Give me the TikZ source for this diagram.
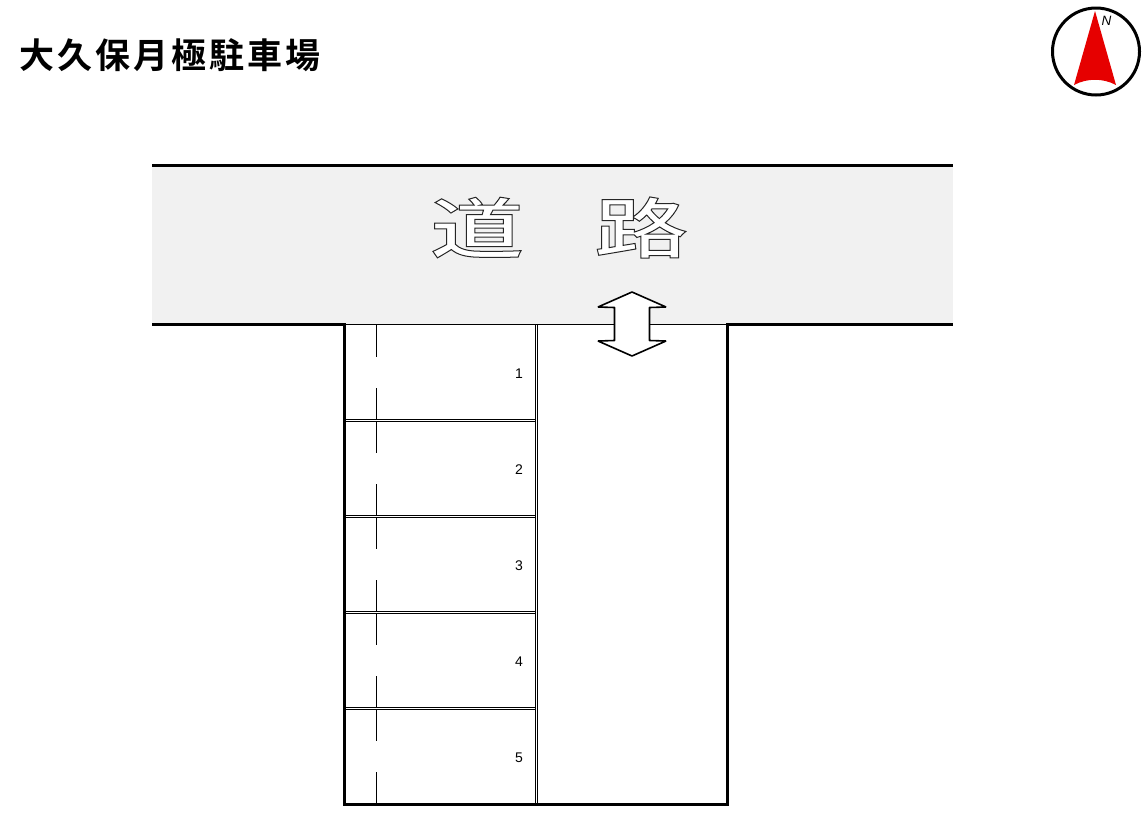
\documentclass[tikz,border=0pt]{standalone}
\usepackage{fontspec}
\newfontfamily\titlefont[LetterSpace=8.8]{Noto Sans CJK JP Bold}
\newfontfamily\roadfont[FakeStretch=1.42]{Noto Sans CJK JP Medium}
\setmainfont{Liberation Sans}
\definecolor{roadgray}{HTML}{F1F1F1}
\definecolor{northred}{HTML}{E60000}
\tikzset{
  x=1pt,y=-1pt,
  thickline/.style={line width=3pt,black},
  thinline/.style={line width=1.1pt,black},
  numlabel/.style={font=\fontsize{14}{14}\selectfont,inner sep=0pt,anchor=center},
}
\begin{document}
\begin{tikzpicture}
\useasboundingbox (0,0) rectangle (1148,825);
\fill[white] (0,0) rectangle (1148,825);
% road
\fill[roadgray] (152,165) rectangle (953,325);
\node[inner sep=0pt] (title) at (170,55) {\fontsize{35}{35}\selectfont\titlefont 大久保月極駐車場};
\node[inner sep=0pt] (road1) at (477,227.5) {\fontsize{66}{66}\selectfont\roadfont\special{pdf:code q 2 Tr 1 w 0.15 0.15 0.15 RG 1 1 1 rg}道\special{pdf:code Q}};
\node[inner sep=0pt] (road2) at (641,227.5) {\fontsize{66}{66}\selectfont\roadfont\special{pdf:code q 2 Tr 1 w 0.15 0.15 0.15 RG 1 1 1 rg}路\special{pdf:code Q}};
% lot separators
\draw[thinline] (345,324.5) -- (728,324.5);
\draw[thinline] (535.7,325) -- (535.7,804);
\draw[thinline] (537.6,325) -- (537.6,804);
\foreach \yy in {419.3,515.3,611.3,707.3}{
  \draw[thinline] (344,\yy) -- (536,\yy);
  \draw[thinline] (344,\yy+2) -- (536,\yy+2);
}
% dashes
\foreach \yy in {325,421.3,517.3,613.3,709.3}{
  \draw[thinline] (376.4,\yy) -- (376.4,\yy+31.5);
  \draw[thinline] (376.4,\yy+63) -- (376.4,\yy+94.5);
}
% outline
\draw[thickline,line cap=butt] (152,165) -- (953,165);
\draw[thickline,line join=miter] (152,324.7) -- (344.3,324.7) -- (344.3,804) -- (727.7,804) -- (727.7,324.7) -- (953,324.7);
% numbers
\node[numlabel] (n1) at (519,373.5) {1};
\node[numlabel] (n2) at (519,469.5) {2};
\node[numlabel] (n3) at (519,565.5) {3};
\node[numlabel] (n4) at (519,661.5) {4};
\node[numlabel] (n5) at (519,757.5) {5};
% arrow
\draw[line width=1.6pt,fill=white,line join=bevel] (632,292) -- (666,307) -- (649.5,307.5) -- (649.5,340.5) -- (666,341) -- (632,356) -- (598,341) -- (614.5,340.5) -- (614.5,307.5) -- (598,307) -- cycle;
% compass
\draw[line width=3pt,black,fill=white] (1096,51.5) circle (43.5);
\fill[northred] (1095,11) -- (1116,85) .. controls (1103,78) and (1087,78) .. (1074,85) -- cycle;
\node[inner sep=0pt] (north) at (1106.5,21) {\fontsize{13.5}{13.5}\selectfont\itshape N};
\end{tikzpicture}
\end{document}
